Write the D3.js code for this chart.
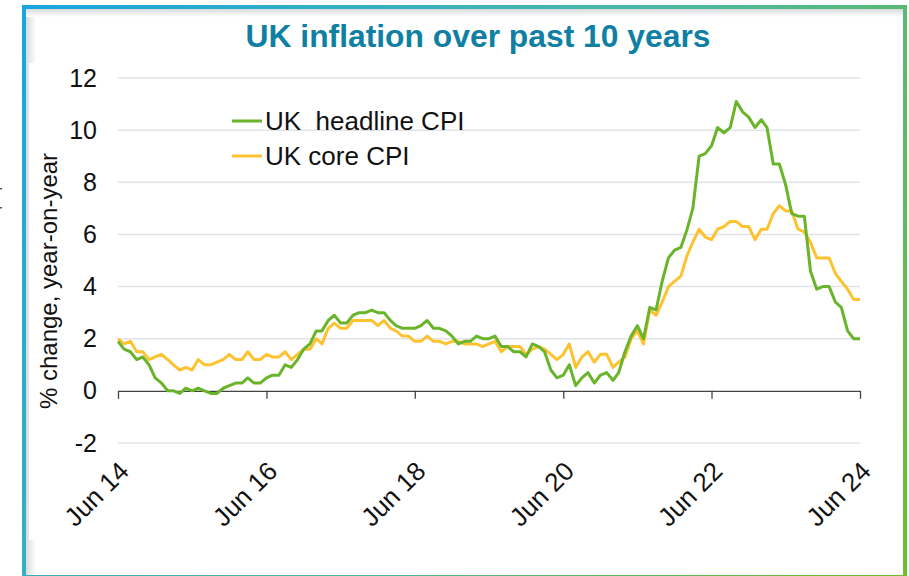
<!DOCTYPE html>
<html>
<head>
<meta charset="UTF-8" />
<title>UK inflation over past 10 years</title>
<script src="https://cdnjs.cloudflare.com/ajax/libs/d3/7.8.5/d3.min.js"></script>
<style>
  body { margin: 0; background: #fff; }
  svg { display: block; font-family: "Liberation Sans", Arial, sans-serif; }
</style>
</head>
<body>
<div id="chart"></div>
<script>
// monthly % change yoy, Jun 2014 .. Jun 2024
var startMonth = new Date(2014, 5, 1);

var headline = [
  1.9, 1.6, 1.5, 1.2, 1.3, 1.0, 0.5,
  0.3, 0.0, 0.0, -0.1, 0.1, 0.0, 0.1, 0.0, -0.1, -0.1, 0.1, 0.2,
  0.3, 0.3, 0.5, 0.3, 0.3, 0.5, 0.6, 0.6, 1.0, 0.9, 1.2, 1.6,
  1.8, 2.3, 2.3, 2.7, 2.9, 2.6, 2.6, 2.9, 3.0, 3.0, 3.1, 3.0,
  3.0, 2.7, 2.5, 2.4, 2.4, 2.4, 2.5, 2.7, 2.4, 2.4, 2.3, 2.1,
  1.8, 1.9, 1.9, 2.1, 2.0, 2.0, 2.1, 1.7, 1.7, 1.5, 1.5, 1.3,
  1.8, 1.7, 1.5, 0.8, 0.5, 0.6, 1.0, 0.2, 0.5, 0.7, 0.3, 0.6,
  0.7, 0.4, 0.7, 1.5, 2.1, 2.5, 2.0, 3.2, 3.1, 4.2, 5.1, 5.4,
  5.5, 6.2, 7.0, 9.0, 9.1, 9.4, 10.1, 9.9, 10.1, 11.1, 10.7, 10.5,
  10.1, 10.4, 10.1, 8.7, 8.7, 7.9, 6.8, 6.7, 6.7, 4.6, 3.9, 4.0,
  4.0, 3.4, 3.2, 2.3, 2.0, 2.0
];

var core = [
  2.0, 1.8, 1.9, 1.5, 1.5, 1.2, 1.3,
  1.4, 1.2, 1.0, 0.8, 0.9, 0.8, 1.2, 1.0, 1.0, 1.1, 1.2, 1.4,
  1.2, 1.2, 1.5, 1.2, 1.2, 1.4, 1.3, 1.3, 1.5, 1.2, 1.4, 1.6,
  1.6, 2.0, 1.8, 2.4, 2.6, 2.4, 2.4, 2.7, 2.7, 2.7, 2.7, 2.5,
  2.7, 2.4, 2.3, 2.1, 2.1, 1.9, 1.9, 2.1, 1.9, 1.9, 1.8, 1.9,
  1.9, 1.8, 1.8, 1.8, 1.7, 1.8, 1.9, 1.5, 1.7, 1.7, 1.7, 1.4,
  1.6, 1.7, 1.6, 1.4, 1.2, 1.4, 1.8, 0.9, 1.3, 1.5, 1.1, 1.4,
  1.4, 0.9, 1.1, 1.3, 2.0, 2.3, 1.8, 3.1, 2.9, 3.4, 4.0, 4.2,
  4.4, 5.2, 5.7, 6.2, 5.9, 5.8, 6.2, 6.3, 6.5, 6.5, 6.3, 6.3,
  5.8, 6.2, 6.2, 6.8, 7.1, 6.9, 6.9, 6.2, 6.1, 5.7, 5.1, 5.1,
  5.1, 4.5, 4.2, 3.9, 3.5, 3.5
];

var tickLabels = ["Jun 14", "Jun 16", "Jun 18", "Jun 20", "Jun 22", "Jun 24"];
var yTicks = [-2, 0, 2, 4, 6, 8, 10, 12];
var seriesNames = ["UK\u00a0 headline CPI", "UK core CPI"];
var seriesColors = ["#6ab42b", "#fdc22f"];

var months = headline.map(function(d, i) { return d3.timeMonth.offset(startMonth, i); });
var tickDates = tickLabels.map(function(d, i) { return d3.timeMonth.offset(startMonth, i * 24); });

var W = 909, H = 576;
var svg = d3.select("#chart").append("svg").attr("width", W).attr("height", H);
var defs = svg.append("defs");

// frame gradient, blue -> teal -> green
var fg = defs.append("linearGradient").attr("id", "frameGrad")
  .attr("gradientUnits", "userSpaceOnUse")
  .attr("x1", 24).attr("y1", 7).attr("x2", 905).attr("y2", 577);
fg.append("stop").attr("offset", 0).attr("stop-color", "#17a6e0");
fg.append("stop").attr("offset", 0.5).attr("stop-color", "#4cb7a6");
fg.append("stop").attr("offset", 1).attr("stop-color", "#6cbe2a");

var sl = defs.append("linearGradient").attr("id", "shadeL").attr("x1", 0).attr("x2", 1).attr("y1", 0).attr("y2", 0);
sl.append("stop").attr("offset", 0).attr("stop-color", "#d8dadc");
sl.append("stop").attr("offset", 1).attr("stop-color", "#ffffff");
var st = defs.append("linearGradient").attr("id", "shadeT").attr("x1", 0).attr("x2", 0).attr("y1", 0).attr("y2", 1);
st.append("stop").attr("offset", 0).attr("stop-color", "#d8dadc");
st.append("stop").attr("offset", 1).attr("stop-color", "#ffffff");

svg.append("rect").attr("x", 26).attr("y", 9).attr("width", 10).attr("height", H).attr("fill", "url(#shadeL)");
svg.append("rect").attr("x", 26).attr("y", 9).attr("width", 877).attr("height", 8).attr("fill", "url(#shadeT)");
svg.append("rect").attr("x", 29).attr("y", 63).attr("width", 870).attr("height", 477).attr("fill", "#fff");

svg.append("rect")
  .attr("x", 24).attr("y", 7).attr("width", 881).attr("height", 570)
  .attr("fill", "none").attr("stroke", "url(#frameGrad)").attr("stroke-width", 4);

// stray marks outside the frame
svg.append("rect").attr("x", 0).attr("y", 188).attr("width", 2).attr("height", 1.5).attr("fill", "#555");
svg.append("rect").attr("x", 0).attr("y", 207).attr("width", 2).attr("height", 1.5).attr("fill", "#555");

// title
svg.append("text")
  .attr("x", 478).attr("y", 47)
  .attr("text-anchor", "middle")
  .attr("font-size", 32).attr("font-weight", "bold")
  .attr("fill", "#0f80a3")
  .attr("textLength", 465).attr("lengthAdjust", "spacingAndGlyphs")
  .text("UK inflation over past 10 years");

var x = d3.scaleTime().domain([months[0], months[months.length - 1]]).range([118, 860]);
var y = d3.scaleLinear().domain([-2, 12]).range([443, 78]);

// gridlines
svg.append("g").selectAll("line")
  .data(yTicks.filter(function(d) { return d !== 0; }))
  .enter().append("line")
  .attr("x1", 118).attr("x2", 860)
  .attr("y1", function(d) { return y(d); }).attr("y2", function(d) { return y(d); })
  .attr("stroke", function(d) { return d < 0 ? "#e6e6e6" : "#dfe4ea"; })
  .attr("stroke-width", 1.5);

// y axis labels
var yAxis = svg.append("g").attr("transform", "translate(97,0)")
  .call(d3.axisLeft(y).tickValues(yTicks).tickSize(0).tickPadding(0)
    .tickFormat(function(d) { return String(d); }));
yAxis.select(".domain").remove();
yAxis.selectAll("text").attr("font-size", 25).attr("fill", "#111")
  .attr("font-family", "Liberation Sans, Arial, sans-serif");

svg.append("text")
  .attr("transform", "translate(57,281) rotate(-90)")
  .attr("text-anchor", "middle")
  .attr("font-size", 24).attr("fill", "#111")
  .text("% change, year-on-year");

// x axis at zero
var xAxis = svg.append("g").attr("transform", "translate(0," + y(0) + ")")
  .call(d3.axisBottom(x).tickValues(tickDates).tickSize(8).tickSizeOuter(0)
    .tickFormat(function(d, i) { return tickLabels[i]; }));
xAxis.select(".domain").attr("stroke", "#444").attr("stroke-width", 1.3);
xAxis.selectAll(".tick line").attr("stroke", "#444").attr("stroke-width", 1.3);
xAxis.selectAll(".tick text")
  .attr("font-size", 26).attr("fill", "#111")
  .attr("font-family", "Liberation Sans, Arial, sans-serif")
  .attr("text-anchor", "end")
  .attr("dy", 0)
  .attr("y", 0)
  .attr("transform", "translate(12,82) rotate(-45)");

// lines
var line = d3.line()
  .x(function(d, i) { return x(months[i]); })
  .y(function(d) { return y(d); });

[core, headline].forEach(function(s, k) {
  svg.append("path")
    .datum(s)
    .attr("fill", "none")
    .attr("stroke", seriesColors[1 - k])
    .attr("stroke-width", 3)
    .attr("stroke-linejoin", "round")
    .attr("d", line);
});

// legend
var leg = svg.append("g").attr("transform", "translate(232,121)");
seriesNames.forEach(function(name, i) {
  var g = leg.append("g").attr("transform", "translate(0," + (i * 35) + ")");
  g.append("line").attr("x1", 0).attr("x2", 30).attr("y1", 0).attr("y2", 0)
    .attr("stroke", seriesColors[i]).attr("stroke-width", 3);
  g.append("text").attr("x", 33).attr("y", 9)
    .attr("font-size", 26).attr("fill", "#111")
    .text(name);
});
</script>
</body>
</html>
